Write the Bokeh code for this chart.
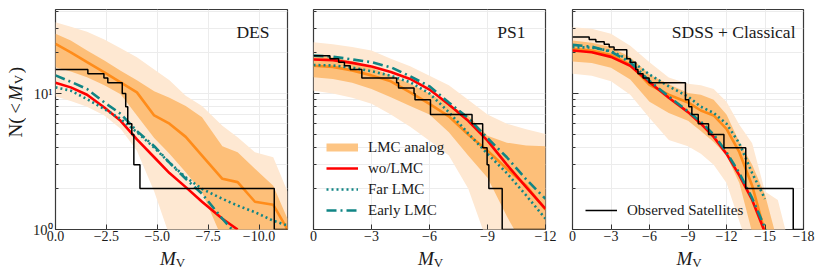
import math
import numpy as np
from bokeh.plotting import figure
from bokeh.layouts import row, column
from bokeh.models import Range1d, FixedTicker, Label, Legend, LegendItem, CustomLabelingPolicy
from bokeh.embed import file_html
from bokeh.resources import INLINE

NaN = float("nan")

# ---------------- DES ----------------
des_mag = [0, -0.75, -1.55, -2.4, -3.2, -4.0, -4.85, -5.6, -6.4, -7.2, -8.2, -8.95, -9.8, -10.7, -11.4]
des_median = [23.2, 20.1, 17.0, 14.3, 12.1, 10.2, 6.9, 6.0, 4.8, 3.5, 2.36, 2.23, 1.6, 1.52, 1.0]
des_dark_hi = [27.5, 24.5, 20.7, 17.5, 14.7, 12.5, 10.4, 9.3, 8.1, 6.7, 4.1, 3.7, 2.8, 2.1, 1.2]
des_dark_lo = [15.6, 14.5, 13.2, 11.5, 9.9, 6.9, 4.7, 3.6, 2.64, 1.88, 0.85, 0.6, 0.5, 0.5, 0.5]
des_light_hi = [33.5, 31.0, 28.5, 25.0, 21.5, 18.5, 15.0, 12.5, 9.65, 8.1, 5.8, 4.77, 3.7, 3.4, 1.9]
des_light_lo = [9.5, 8.8, 8.0, 6.9, 5.5, 3.8, 1.9, 0.9, 0.5, 0.5, 0.5, 0.5, 0.5, 0.5, 0.5]
des_wo = [12.0, 11.1, 9.8, 7.9, 6.3, 4.6, 3.4, 2.6, 2.05, 1.6, 1.2, 1.0, NaN, NaN, NaN]
des_far = [11.1, 10.5, 9.1, 7.7, 6.5, 5.2, 4.0, 3.1, 2.42, 1.99, 1.68, 1.5, 1.34, 1.16, 1.07]
des_early = [13.6, 12.2, 10.8, 8.6, 7.1, 5.3, 4.1, 3.1, 2.36, 1.83, 1.2, 0.9, NaN, NaN, NaN]
des_obs_mag = [0, -1.59, -2.38, -2.57, -3.28, -3.45, -3.55, -3.75, -3.85, -4.15, -10.75]
des_obs_n = [15, 14, 13, 12, 10, 8, 6, 5, 3, 2, 1]
des_ticks = [0, -2.5, -5.0, -7.5, -10.0]
des_tick_labels = ["0.0", "\u22122.5", "\u22125.0", "\u22127.5", "\u221210.0"]
des_xlim = -11.4

# ---------------- PS1 ----------------
ps_mag = [0, -1, -2, -3, -4, -5, -6, -7, -8, -9, -10, -11, -12]
ps_median = [16.0, 15.7, 14.8, 13.6, 12.3, 10.2, 8.4, 6.8, 5.0, 3.8, 2.8, 2.1, 1.4]
ps_dark_hi = [19.0, 18.5, 17.3, 15.5, 13.6, 11.8, 10.0, 8.3, 6.9, 4.9, 4.35, 4.15, 4.1]
ps_dark_lo = [13.2, 12.8, 12.0, 10.8, 9.4, 8.1, 7.0, 5.2, 3.5, 2.4, 1.25, 0.7, 0.5]
ps_light_hi = [23.8, 23.0, 22.0, 20.7, 18.0, 15.9, 13.5, 11.5, 9.0, 7.0, 6.0, 5.45, 5.05]
ps_light_lo = [10.5, 10.0, 9.3, 8.4, 7.0, 5.7, 4.5, 3.5, 2.0, 0.8, 0.5, 0.5, 0.5]
ps_wo = [17.8, 17.6, 16.8, 15.8, 14.4, 12.8, 10.7, 8.3, 6.3, 4.5, 3.0, 2.05, 1.42]
ps_far = [16.2, 16.1, 15.5, 14.6, 13.5, 12.1, 10.0, 7.3, 5.1, 3.6, 2.6, 1.78, 1.2]
ps_early = [19.0, 18.7, 17.8, 17.0, 15.6, 13.4, 11.3, 8.6, 6.6, 4.7, 3.4, 2.34, 1.68]
ps_obs_mag = [0, -0.85, -1.3, -1.6, -1.9, -2.5, -4.3, -4.4, -5.2, -5.25, -6.05, -8.2, -8.75, -8.98, -9.07, -9.76]
ps_obs_n = [19, 18, 17, 16, 15, 13, 12, 11, 10, 9, 7, 6, 4, 3, 2, 1]
ps_ticks = [0, -3, -6, -9, -12]
ps_tick_labels = ["0", "\u22123", "\u22126", "\u22129", "\u221212"]
ps_xlim = -12.0

# ---------------- SDSS + Classical ----------------
sd_mag = [0, -1.5, -3, -4.5, -6, -7.5, -9, -10, -11, -12, -13, -14, -15, -16, -17, -18]
sd_median = [21.3, 20.7, 19.2, 16.3, 11.6, 9.8, 8.6, 7.5, 6.9, 5.5, 3.7, 2.1, 0.95, NaN, NaN, NaN]
sd_dark_hi = [24.5, 23.6, 22.0, 18.5, 13.8, 11.7, 10.1, 9.8, 9.0, 7.0, 4.4, 3.0, 1.8, 0.8, 0.5, 0.5]
sd_dark_lo = [17.2, 16.8, 15.5, 12.7, 8.7, 7.2, 6.3, 5.3, 4.4, 3.5, 2.2, 0.95, 0.5, 0.5, 0.5, 0.5]
sd_light_hi = [30.7, 30.0, 27.5, 22.5, 17.0, 13.1, 11.8, 11.5, 10.8, 8.7, 5.9, 4.3, 1.9, 1.65, 0.7, 0.5]
sd_light_lo = [14.0, 13.5, 12.3, 9.8, 6.6, 4.55, 4.1, 3.6, 3.0, 2.2, 1.15, 0.6, 0.5, 0.5, 0.5, 0.5]
sd_wo = [20.7, 20.1, 18.6, 16.0, 12.1, 9.3, 7.3, 6.0, 4.8, 3.6, 2.5, 1.65, 0.95, NaN, NaN, NaN]
sd_far = [21.9, 21.8, 20.5, 17.6, 13.8, 11.3, 9.5, 8.0, 7.2, 6.0, 4.3, 2.6, 1.68, NaN, NaN, NaN]
sd_early = [22.8, 22.1, 20.3, 17.0, 12.4, 9.5, 7.4, 6.2, 5.0, 3.7, 2.6, 1.7, 1.03, 0.6, NaN, NaN]
sd_obs_mag = [0, -1.3, -1.82, -2.47, -2.86, -3.24, -4.23, -4.5, -4.93, -5.1, -5.5, -5.97,
              -8.8, -9.06, -9.3, -9.8, -10.6, -11.8, -13.5, -17.2]
sd_obs_n = [26, 25, 24, 23, 22, 21, 18, 17, 15, 14, 13, 12, 9, 8, 7, 6, 5, 4, 2, 1]
sd_ticks = [0, -3, -6, -9, -12, -15, -18]
sd_tick_labels = ["0", "\u22123", "\u22126", "\u22129", "\u221212", "\u221215", "\u221218"]
sd_xlim = -18.0

y_ticks = [1, 10]
y_tick_labels = ["10\u2070", "10\u00b9"]
y_minor = [2, 3, 4, 5, 6, 7, 8, 9, 20, 30, 40]
y_top = 41.5

FONT = "Liberation Serif"
LIGHT = "#fee8d2"
DARK = "#fdbf79"
ORANGE = "#ff8c1a"
RED = "#ff0000"
TEAL = "#108585"
TXT = "#1a1a1a"
FRAME_H = 220
TOP = 9
BOTTOM = 17
FIG_H = TOP + FRAME_H + BOTTOM
YLAB_W = 26

no_labels = CustomLabelingPolicy(code="return new Set()")


def panel(frame_w, bl, br, mag, med, dhi, dlo, lhi, llo, wo, far, early,
          obs_mag, obs_n, xlim, ticks, tlabels, title, title_x, first=False):
    p = figure(width=bl + frame_w + br, height=FIG_H, y_axis_type="log",
               x_range=Range1d(0, xlim), y_range=Range1d(1, y_top),
               output_backend="svg", toolbar_location=None,
               min_border_left=bl, min_border_right=br, min_border_top=TOP, min_border_bottom=BOTTOM,
               background_fill_color="white", border_fill_color="white")
    p.outline_line_color = "#3a3a3a"
    p.outline_line_width = 1.2
    m = np.array(mag, dtype=float)
    p.varea(x=m, y1=np.array(llo), y2=np.array(lhi), fill_color=LIGHT)
    p.varea(x=m, y1=np.array(dlo), y2=np.array(dhi), fill_color=DARK)
    p.line(m, np.array(med, dtype=float), line_color=ORANGE, line_width=2.6)
    r_wo = p.line(m, np.array(wo, dtype=float), line_color=RED, line_width=2.6)
    r_far = p.line(m, np.array(far, dtype=float), line_color=TEAL, line_width=2.6,
                   line_dash="2 3")
    r_early = p.line(m, np.array(early, dtype=float), line_color=TEAL, line_width=2.6,
                     line_dash="10 4 2 4")
    r_obs = p.step(np.array(obs_mag + [xlim], dtype=float), np.array(obs_n + [obs_n[-1]], dtype=float),
                   mode="after", line_color="black", line_width=1.5)
    r_band = p.line(x=[NaN], y=[NaN], line_color="#fdc584", line_width=8)

    xa = p.xaxis[0]
    xa.ticker = FixedTicker(ticks=ticks)
    xa.major_label_overrides = {t: l for t, l in zip(ticks, tlabels)}
    ya = p.yaxis[0]
    ya.ticker = FixedTicker(ticks=y_ticks, minor_ticks=y_minor)
    ya.major_label_overrides = {t: l for t, l in zip(y_ticks, y_tick_labels)}
    for ax in (xa, ya):
        ax.axis_line_color = None
        ax.axis_label_standoff = 0
        ax.major_tick_out = 0
        ax.minor_tick_out = 0
        ax.major_tick_line_color = "#333333"
        ax.minor_tick_line_color = "#333333"
        ax.major_label_text_font = FONT
        ax.major_label_text_font_size = "14.5px"
        ax.major_label_text_color = TXT
        ax.major_label_standoff = 3
    xa.major_label_text_font_size = "14px"
    xa.major_label_standoff = 1
    xa.major_tick_in = 5
    xa.minor_tick_in = 0
    ya.major_tick_in = 6
    ya.minor_tick_in = 3
    if not first:
        ya.major_label_policy = no_labels
        ya.major_label_text_font_size = "0px"
        ya.major_label_standoff = 0
    p.xgrid.grid_line_color = "#ececec"
    p.ygrid.grid_line_color = "#ececec"
    p.ygrid.minor_grid_line_color = "#ececec"

    p.add_layout(Label(x=title_x, y=FRAME_H - 22.5, x_units="screen", y_units="screen", text=title,
                       text_font=FONT, text_font_size="17.5px", text_align="right",
                       text_baseline="middle", text_color=TXT))
    return p, r_band, r_wo, r_far, r_early, r_obs


def blank(w, h):
    f = figure(width=w, height=h, x_range=Range1d(0, w), y_range=Range1d(0, h),
               output_backend="svg", toolbar_location=None, min_border=0,
               x_axis_location=None, y_axis_location=None,
               background_fill_color="white", border_fill_color="white")
    f.outline_line_color = None
    f.grid.visible = False
    return f


def style_legend(lg):
    lg.location = (13, 9)
    lg.padding = 0
    lg.margin = 0
    lg.spacing = 1
    lg.glyph_width = 32
    lg.glyph_height = 20
    lg.label_height = 20
    lg.label_standoff = 10
    lg.border_line_color = None
    lg.background_fill_alpha = 0
    lg.label_text_font = FONT
    lg.label_text_font_size = "15px"
    lg.label_text_color = TXT


P1_L = 55 - YLAB_W
p1, *_ = panel(232, P1_L, 13, des_mag, des_median, des_dark_hi, des_dark_lo, des_light_hi, des_light_lo,
               des_wo, des_far, des_early, des_obs_mag, des_obs_n, des_xlim, des_ticks, des_tick_labels,
               "DES", 214, first=True)
p2, b2, w2, f2, e2, o2 = panel(232, 13, 13, ps_mag, ps_median, ps_dark_hi, ps_dark_lo, ps_light_hi, ps_light_lo,
                               ps_wo, ps_far, ps_early, ps_obs_mag, ps_obs_n, ps_xlim, ps_ticks, ps_tick_labels,
                               "PS1", 212)
p3, b3, w3, f3, e3, o3 = panel(231, 14, 20, sd_mag, sd_median, sd_dark_hi, sd_dark_lo, sd_light_hi, sd_light_lo,
                               sd_wo, sd_far, sd_early, sd_obs_mag, sd_obs_n, sd_xlim, sd_ticks, sd_tick_labels,
                               "SDSS + Classical", 223)

lg2 = Legend(items=[LegendItem(label="LMC analog", renderers=[b2]),
                    LegendItem(label="wo/LMC", renderers=[w2]),
                    LegendItem(label="Far LMC", renderers=[f2]),
                    LegendItem(label="Early LMC", renderers=[e2])])
style_legend(lg2)
p2.add_layout(lg2)

lg3 = Legend(items=[LegendItem(label="Observed Satellites", renderers=[o3])])
style_legend(lg3)
p3.add_layout(lg3)

# y-axis title: N(< M_V), rotated; pieces placed by their centres (page pixels)
ylab = blank(YLAB_W, FIG_H)
a = math.pi / 2
for txt, cy, cx, fs, st in [("N(", 144, 14.5, "19px", "normal"), ("<", 125, 14.5, "19px", "normal"),
                            ("M", 109.5, 14.5, "19px", "italic"), ("V", 96, 18.3, "13px", "normal"),
                            (")", 86.5, 14.5, "19px", "normal")]:
    ylab.add_layout(Label(x=cx, y=FIG_H - cy, x_units="screen", y_units="screen", text=txt, angle=a,
                          text_font=FONT, text_font_size=fs, text_font_style=st,
                          text_align="center", text_baseline="middle", text_color=TXT))

# x-axis titles: M_V under every panel (centres in page pixels)
STRIP_H = 277 - FIG_H
total_w = YLAB_W + (P1_L + 232 + 13) + (13 + 232 + 13) + (14 + 231 + 20)
xlab = blank(total_w, STRIP_H)
for c in (171, 429, 687.5):
    xlab.add_layout(Label(x=c - 3.5, y=277 - 258, x_units="screen", y_units="screen", text="M",
                          text_font=FONT, text_font_style="italic", text_font_size="19px",
                          text_align="center", text_baseline="middle", text_color=TXT))
    xlab.add_layout(Label(x=c + 9, y=277 - 261.5, x_units="screen", y_units="screen", text="V",
                          text_font=FONT, text_font_size="13px",
                          text_align="center", text_baseline="middle", text_color=TXT))

layout = column(row(ylab, p1, p2, p3), xlab)
open("out.html", "w").write(file_html(layout, INLINE))
